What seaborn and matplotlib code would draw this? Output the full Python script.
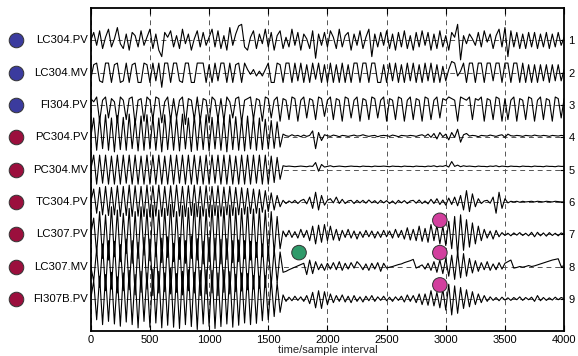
import numpy as np
import pandas as pd
import matplotlib
matplotlib.use('Agg')
import matplotlib.pyplot as plt
import matplotlib.transforms as mtransforms
import seaborn as sns

# samples between stored points, values are in 1/100 of a trace slot
STEP = 25

tags = ['LC304.PV', 'LC304.MV', 'FI304.PV', 'PC304.PV', 'PC304.MV',
        'TC304.PV', 'LC307.PV', 'LC307.MV', 'FI307B.PV']
tag_group = ['LC304', 'LC304', 'LC304', 'PC304', 'PC304',
             'PC304', 'PC304', 'PC304', 'PC304']

lc304_pv = [
    0, 25, -15, 30, -25, 10, 35, -20, 5, 40, -10, -25, 20, -30, 25, 15, -20, 30, -15, 10,
    35, -25, 20, -30, -50, 25, 10, 30, -20, 15, -25, 35, -10, 20, -30, 5, 30, -20, 25, -15,
    10, 35, -20, 30, -25, 15, -30, 40, -15, 20, 45, 50, -20, -30, 10, 30, -25, 20, -10, 35,
    -20, 25, -30, 15, 30, -25, 10, -20, 35, -15, 25, -30, 20, 5, -25, 30, -55, 20, -15, 25,
    -20, 30, 10, -25, 35, -20, 15, 25, -30, 20, -15, 30, -25, 10, 35, -50, 20, -20, 25, -15,
    30, -25, 20, -30, 25, -20, 30, -25, 15, -30, 25, -20, 30, -15, 25, -30, 20, -25, 30, -20,
    15, -30, 25, 10, 50, -60, 15, -10, 20, 5, -15, 25, -20, 30, -5, 20, -25, 15, 35, -20,
    40, -50, 30, -20, 25, -25, 20, -25, 25, -20, 25, -25, 20, -20, 25, -25, 20, -20, 25, -15,
    10]

lc304_mv = [
    -20, 25, 30, -25, -30, 30, 30, -30, 25, 30, -30, -25, 30, -30, 25, 30, -30, -30, 30, 25,
    -30, 30, -25, 30, -45, 30, 30, -30, 30, 30, -25, -30, 30, 30, -30, -30, 30, 30, 30, -30,
    25, -30, 30, -25, 30, 30, -30, 30, -30, 25, 30, -30, 30, 10, -5, 10, -10, 5, -10, 10,
    30, -30, -30, 30, 25, -30, 30, 30, -30, 30, -25, 30, -30, 25, -30, 30, -20, 30, -30, 25,
    -30, 30, -30, 25, -30, 30, -30, 25, -30, 30, 30, -30, 30, 30, -30, 30, 30, -30, -30, 25,
    -30, 30, -25, 30, -30, 25, -30, 30, -25, 30, -30, 25, -30, 30, -25, 30, -30, 25, -30, 20,
    -25, 10, 35, 30, -10, 5, 30, -30, 30, 30, -30, 30, 30, -30, 30, 30, -25, 30, 30, -30,
    30, 30, -30, 30, 30, -30, 30, -30, 25, -30, 25, -30, 25, -25, 25, -30, 25, -25, 25, -25,
    10]

fi304_pv = [
    20, 10, 25, -50, 15, 25, -40, 20, 10, -55, 25, 15, -45, 20, 25, -60, 15, 20, -50, 25,
    15, -45, 25, 20, -55, 10, 25, -50, 20, -40, 15, 25, -60, 20, 15, -45, 25, -50, 20, 15,
    -55, 25, 15, -45, 20, -50, 25, 10, -40, 20, 25, -55, 15, 20, 25, -45, 20, 15, -50, 25,
    20, -40, 15, 25, -50, 20, 15, -45, 25, 20, -50, 15, 25, -40, 20, 15, -45, 25, 20, -35,
    15, 25, -45, 20, 15, -50, 25, 20, -40, 15, 25, -50, 20, 15, -45, 25, 20, -40, 15, 25,
    -50, 20, 15, -45, 25, 20, -50, 15, 25, -45, 20, 15, -50, 25, 20, -45, 15, 25, -40, 20,
    15, 25, 20, 15, -50, 25, 20, 15, 25, -45, 20, 15, 25, -50, 20, 15, -45, 25, 20, -50,
    20, -45, 15, 25, -50, 20, 15, -45, 25, 20, -50, 15, 25, -45, 20, 15, -50, 25, 20, -40,
    20]

pc304_pv = [
    0, 60, -40, 65, -35, 70, -40, 60, -45, 68, -38, 62, -40, 72, -35, 58, -42, 66, -40, 70,
    -36, 64, -40, 60, -45, 70, -38, 66, -40, 62, -42, 72, -36, 60, -44, 68, -40, 64, -38, 70,
    -42, 62, -36, 66, -40, 60, -45, 70, -38, 64, -40, 58, -42, 66, -36, 62, -40, 60, -38, 56,
    -36, 52, -34, 48, -30, 10, 5, 3, 8, 4, 6, 2, 7, 3, 6, 20, -35, 15, -10, 8,
    5, 3, 7, 5, 2, 6, 5, 3, 5, 7, 4, 5, 8, 5, 3, 5, 6, 2, 5, 6,
    5, 3, 7, 5, 2, 6, 5, 4, 6, 5, 3, 6, 8, 3, 10, 0, 12, -5, 15, 2,
    10, -8, 15, 0, 25, -15, 8, 12, 4, 6, 5, 2, 6, 5, 4, 7, 5, 3, 6, 8,
    0, 10, 5, 4, 6, 5, 3, 6, 5, 4, 7, 5, 4, 6, 5, 3, 6, 5, 4, 6,
    5]

pc304_mv = [
    0, 45, -45, 45, -42, 45, -45, 42, -45, 45, -45, 45, -42, 45, -45, 45, -45, 42, -45, 45,
    -45, 45, -45, 45, -45, 42, -45, 45, -45, 45, -42, 45, -45, 45, -45, 45, -45, 42, -45, 45,
    -45, 45, -42, 45, -45, 45, -45, 45, -45, 42, -45, 45, -45, 45, -45, 45, -42, 45, -45, 45,
    -45, 42, -40, 38, -30, 12, 10, 11, 10, 9, 10, 11, 10, 9, 11, 10, 22, -5, 16, 8,
    10, 12, 9, 10, 11, 10, 9, 10, 11, 10, 10, 9, 11, 10, 10, 9, 11, 10, 10, 11,
    10, 9, 11, 10, 10, 9, 11, 10, 10, 9, 11, 10, 10, 9, 11, 10, 12, 9, 11, 10,
    13, 8, 25, 10, 14, 9, 12, 10, 11, 10, 9, 11, 10, 10, 9, 11, 10, 12, 9, 11,
    10, 9, 11, 10, 10, 9, 11, 10, 10, 9, 11, 10, 10, 9, 11, 10, 10, 9, 11, 10,
    10]

tc304_pv = [
    0, 40, -35, 45, -40, 48, -42, 45, -40, 50, -45, 48, -42, 52, -45, 50, -44, 48, -45, 52,
    -46, 50, -44, 52, -45, 48, -42, 50, -46, 52, -44, 48, -45, 50, -42, 52, -46, 48, -44, 50,
    -45, 48, -42, 50, -44, 46, -40, 48, -42, 45, -40, 44, -38, 42, -36, 40, -35, 38, -32, 35,
    -30, 28, -25, 20, -15, 5, -5, 3, -3, 5, -5, 4, 8, -6, 15, -20, 30, -25, 20, -10,
    5, 10, -3, 15, -5, 8, -5, 3, 5, -5, 5, -3, 5, -4, 6, -3, 4, -5, 5, -3,
    4, -5, 3, -6, 5, -3, 4, -5, 3, 5, -4, 6, -5, 3, -6, 8, -5, 10, -8, 6,
    -10, 12, -8, 15, -12, 20, -25, 35, -30, 25, -15, 10, -5, 3, 5, -4, 15, -35, 30, -20,
    10, -3, 2, 0, 2, -1, 2, 0, 1, 2, 0, 2, 1, 0, 2, 1, 0, 2, 1, 0,
    0]

lc307_pv = [
    0, 50, -60, 70, -75, 60, -80, 85, -70, 75, -85, 65, -60, 80, -90, 70, -75, 85, -65, 78,
    -82, 90, -70, 75, -88, 80, -72, 92, -85, 70, -78, 88, -90, 82, -75, 95, -80, 86, -92, 78,
    -85, 90, -80, 88, -92, 85, -78, 90, -88, 82, -85, 80, -76, 84, -80, 78, -72, 80, -70, 75,
    -68, 70, -60, 55, -45, 10, -8, 12, -10, 8, -12, 15, -10, 12, -20, 25, -30, 28, -25, 30,
    -20, 25, -18, 15, -20, 12, -10, 15, -12, 10, -15, 8, -10, 12, -8, 10, -12, 8, -10, 12,
    -8, 10, -12, 15, -10, 12, -15, 20, -18, 15, -20, 25, -22, 18, -25, 30, -20, 28, -30, 25,
    -35, 40, -45, 55, -65, 60, -50, 45, -40, 35, -30, 25, -20, 15, -12, 10, -15, 12, -8, 5,
    -4, 3, -5, 4, -3, 5, -4, 3, -5, 6, -8, 6, -5, 4, -6, 5, -4, 3, -5, 4,
    0]

lc307_mv = [
    0, -45, 55, -65, 70, -75, 80, -70, 78, -82, 68, -75, 85, -72, 80, -88, 75, -80, 90, -70,
    85, -90, 75, -82, 88, -78, 92, -85, 72, -80, 90, -88, 80, -75, 95, -82, 86, -90, 78, -85,
    90, -82, 88, -90, 84, -80, 86, -85, 80, -78, 82, -76, 80, -72, 78, -70, 75, -68, 70, -65,
    62, -58, 55, -50, 45, -18, -15, -10, -6, -2, 2, 6, 10, -25, 20, -22, 15, -10, 8, -12,
    10, -8, 12, -10, 15, -12, 10, -8, 12, -5, 15, 5, -10, 8, -12, 10, -8, 12, -15, 10,
    -5, -2, 0, 3, 6, 8, 12, 15, 18, 22, -5, 0, 5, -8, 10, -12, 15, -18, 20, -22,
    25, -30, 35, -40, 45, -35, 40, -30, 25, -20, 18, -15, 12, -10, 15, -12, 8, -10, 12, -8,
    10, 15, 20, -5, -3, 0, -2, 0, 3, 0, 2, 5, 8, 11, 14, 17, 20, 22, 24, 0,
    2]

fi307b_pv = [
    0, 55, -65, 70, -80, 75, -70, 82, -78, 68, -85, 80, -72, 88, -80, 75, -90, 85, -70, 80,
    -88, 92, -75, 85, -90, 80, -82, 95, -88, 78, -92, 85, -80, 90, -86, 82, -95, 88, -78, 90,
    -85, 88, -92, 80, -86, 90, -78, 84, -88, 76, -82, 80, -75, 78, -80, 72, -76, 70, -68, 72,
    -65, 60, -55, 50, -42, 12, -8, 5, -6, 8, -5, 6, -8, 10, -15, 20, -28, 25, -30, 22,
    -18, 15, -12, 10, -8, 12, -10, 8, -12, 10, -8, 6, -10, 8, -6, 10, -8, 6, -5, 8,
    -6, 5, -8, 6, -5, 8, -10, 12, -8, 10, -12, 15, -18, 15, -20, 25, -22, 20, -28, 30,
    -35, 45, -50, 40, -45, 35, -30, 28, -25, 22, -18, 15, -12, 10, -8, 6, -5, 4, -6, 5,
    -4, 3, -5, 4, -3, 6, -5, 4, -3, 5, -8, 10, -6, 4, -5, 3, -4, 5, -3, 4,
    0]

series = [lc304_pv, lc304_mv, fi304_pv, pc304_pv, pc304_mv,
          tc304_pv, lc307_pv, lc307_mv, fi307b_pv]

# marked events (sample, tag, kind)
event_time = [1760, 2950, 2950, 2950]
event_tag = ['LC307.MV', 'LC307.PV', 'LC307.MV', 'FI307B.PV']
event_kind = ['start', 'found', 'found', 'found']

xticks = [0, 500, 1000, 1500, 2000, 2500, 3000, 3500, 4000]

# long-form table, each trace sits in its own slot
rows = []
for k, (tag, vals) in enumerate(zip(tags, series)):
    for i, v in enumerate(vals):
        rows.append({'tag': tag, 'sample': i * STEP, 'y': -(k + 1) + v / 100})
df = pd.DataFrame(rows)

slot = {t: -(k + 1) for k, t in enumerate(tags)}
ev = pd.DataFrame({'time': event_time, 'tag': event_tag, 'kind': event_kind})
ev['y'] = ev['tag'].map(slot) + 0.43

sns.set_theme(style='white')
plt.rcParams['font.family'] = ['Liberation Sans', 'DejaVu Sans']

fig, ax = plt.subplots(figsize=(5.78, 3.56), dpi=100)
fig.subplots_adjust(left=0.157, right=0.976, top=0.977, bottom=0.07)

sns.lineplot(data=df, x='sample', y='y', units='tag', estimator=None,
             color='black', lw=0.8, legend=False, ax=ax, zorder=3)

sns.scatterplot(data=ev, x='time', y='y', hue='kind',
                palette={'start': '#2f9a6a', 'found': '#d23f9e'},
                s=110, edgecolor='#333333', linewidth=0.7, legend=False,
                ax=ax, zorder=5)

ax.set_xlim(0, 4000)
ax.set_ylim(-10, 0)
ax.set_xticks(xticks)
ax.set_xticklabels([str(t) for t in xticks])
ax.set_yticks([slot[t] for t in tags])
ax.set_yticklabels([str(k + 1) for k in range(len(tags))])
ax.yaxis.tick_right()
ax.tick_params(axis='x', direction='in', length=4, width=0.8, pad=2.5,
               labelsize=8, top=True, bottom=True, colors='black')
ax.tick_params(axis='y', direction='in', length=3, width=0.8, pad=3,
               labelsize=8, colors='black')
ax.set_xlabel('time/sample interval', fontsize=8, labelpad=0)
ax.set_ylabel('')

ax.grid(True, linestyle=(0, (5, 4)), color='#555555', lw=0.7)
ax.set_axisbelow(True)
for s in ax.spines.values():
    s.set_visible(True)
    s.set_color('black')
    s.set_linewidth(1.3)

# tag names and group dots on the left
trans = mtransforms.blended_transform_factory(ax.transAxes, ax.transData)
group_color = {'LC304': '#3b3b9e', 'PC304': '#9b0f3d'}
for tag, grp in zip(tags, tag_group):
    ax.text(-0.006, slot[tag], tag, transform=trans, ha='right', va='center',
            fontsize=8.2, color='black')
    ax.scatter(-0.158, slot[tag], s=110, color=group_color[grp],
               edgecolor='#333333', linewidth=0.7, transform=trans,
               clip_on=False, zorder=5)

fig.savefig('out.png', dpi=100)
